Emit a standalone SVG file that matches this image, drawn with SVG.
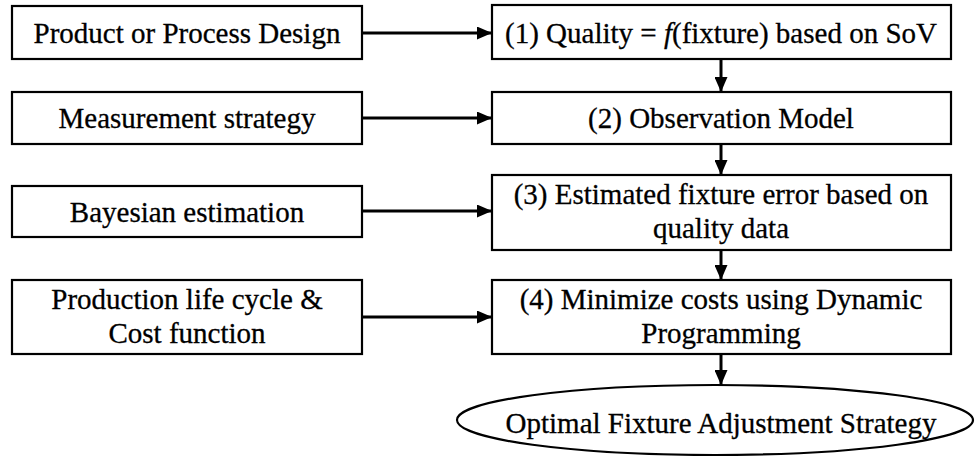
<svg xmlns="http://www.w3.org/2000/svg" width="976" height="456" viewBox="0 0 976 456">
<defs>
<marker id="ah" markerWidth="15" markerHeight="13" refX="15" refY="6.5" orient="auto" markerUnits="userSpaceOnUse">
<path d="M0,0 L15,6.5 L0,13 Z" fill="#000"/>
</marker>
<style>
.box{fill:#fff;stroke:#000;stroke-width:2.2}
.t{font-family:"Liberation Serif","Times New Roman",serif;font-size:29px;fill:#000;stroke:#000;stroke-width:0.3;text-anchor:middle}
.c{stroke:#000;stroke-width:3;fill:none;marker-end:url(#ah)}
</style>
</defs>
<rect width="976" height="456" fill="#fff"/>
<g id="connectors">
<line class="c" x1="362" y1="33" x2="492" y2="33"/>
<line class="c" x1="362" y1="118" x2="492" y2="118"/>
<line class="c" x1="362" y1="211" x2="492" y2="211"/>
<line class="c" x1="362" y1="317" x2="492" y2="317"/>
<line class="c" x1="721" y1="59" x2="721" y2="92"/>
<line class="c" x1="721" y1="144" x2="721" y2="175"/>
<line class="c" x1="721" y1="250" x2="721" y2="280"/>
<line class="c" x1="721" y1="354" x2="721" y2="385"/>
</g>
<g id="n-design"><rect class="box" x="12" y="6" width="350" height="53"/><text class="t" x="187" y="43">Product or Process Design</text></g>
<g id="n-measure"><rect class="box" x="12" y="92" width="350" height="52"/><text class="t" x="187" y="128">Measurement strategy</text></g>
<g id="n-bayes"><rect class="box" x="12" y="186" width="350" height="51"/><text class="t" x="187" y="222">Bayesian estimation</text></g>
<g id="n-life"><rect class="box" x="12" y="280" width="350" height="74"/><text class="t" x="187" y="309">Production life cycle &amp;</text><text class="t" x="187" y="343">Cost function</text></g>
<g id="n-quality"><rect class="box" x="492" y="5" width="459" height="54"/><text class="t" x="721" y="43">(1) Quality = <tspan font-style="italic">f</tspan>(fixture) based on SoV</text></g>
<g id="n-obs"><rect class="box" x="492" y="92" width="459" height="52"/><text class="t" x="721" y="128">(2) Observation Model</text></g>
<g id="n-est"><rect class="box" x="492" y="175" width="459" height="75"/><text class="t" x="721" y="204">(3) Estimated fixture error based on</text><text class="t" x="721" y="238">quality data</text></g>
<g id="n-min"><rect class="box" x="492" y="280" width="459" height="74"/><text class="t" x="721" y="309">(4) Minimize costs using Dynamic</text><text class="t" x="721" y="343">Programming</text></g>
<g id="n-opt"><ellipse class="box" cx="715" cy="420" rx="258" ry="35"/><text class="t" x="721" y="433">Optimal Fixture Adjustment Strategy</text></g>
</svg>
